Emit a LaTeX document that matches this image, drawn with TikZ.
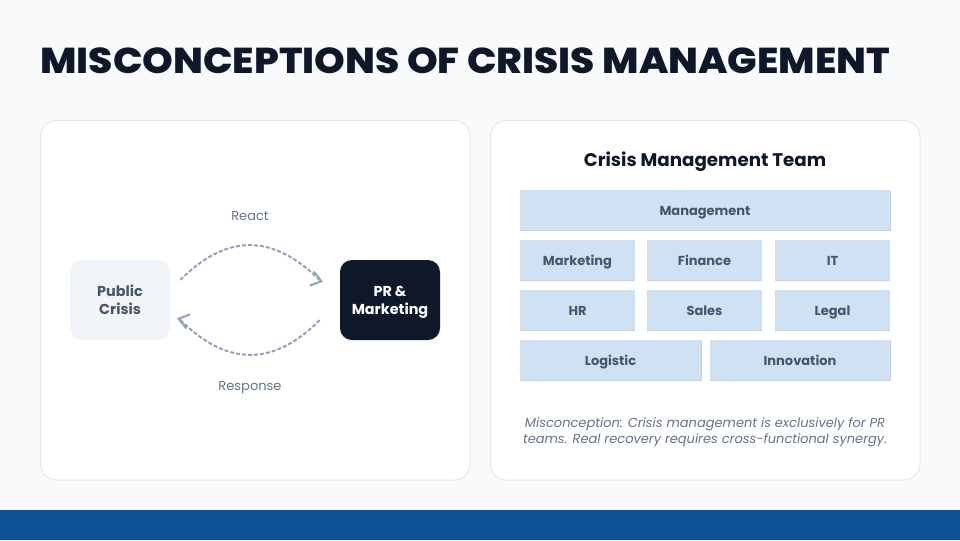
\documentclass[tikz,border=0pt]{standalone}
\usepackage{fontspec}
\usepackage{tikz}
\usetikzlibrary{arrows.meta,shadows}
\setmainfont{Poppins}
\newfontfamily\titlefont[FakeStretch=1.085]{Poppins ExtraBold}

\definecolor{pagebg}{HTML}{F8FAFC}
\definecolor{cardline}{HTML}{E2E8F0}
\definecolor{navy}{HTML}{0F172A}
\definecolor{slatetext}{HTML}{475569}
\definecolor{softtext}{HTML}{64748B}
\definecolor{flowline}{HTML}{94A3B8}
\definecolor{paleblock}{HTML}{F1F5F9}
\definecolor{teamfill}{HTML}{CFE2F3}
\definecolor{teamedge}{HTML}{C4D3E2}
\definecolor{footerblue}{HTML}{0B5394}

\tikzset{
    card/.style={fill=white,draw=cardline,line width=0.75pt,rounded corners=12pt},
    actor/.style={minimum width=75pt,minimum height=60pt,rounded corners=9pt,align=center,
        text height=22.25pt,text depth=1.25pt,
        font=\fontsize{10.8}{13.5}\selectfont\bfseries,inner sep=0pt},
    caption/.style={text=softtext,text height=8pt,text depth=0.5pt,font=\fontsize{9.75}{12}\selectfont},
    team/.style={fill=teamfill,minimum height=30pt,inner sep=0pt,text=slatetext,
        text height=8pt,text depth=0.5pt,font=\fontsize{9.75}{12}\selectfont\bfseries,
        drop shadow={shadow xshift=0pt,shadow yshift=-0.75pt,opacity=1,fill=teamedge}},
    teamwide/.style={team,drop shadow={shadow xshift=0.75pt,shadow yshift=-0.75pt,opacity=1,fill=teamedge}},
    flow/.style={draw=flowline,line width=1.5pt,dash pattern=on 3pt off 1.5pt,
        -{Straight Barb[length=7.5pt,width=11pt,line width=1.5pt]}},
}

\begin{document}
\begin{tikzpicture}[x=0.75pt,y=-0.75pt]
    \useasboundingbox (0,0) rectangle (960,540);
    \fill[pagebg] (0,0) rectangle (960,540);
    \fill[footerblue] (0,510) rectangle (960,540);

    \node[anchor=base west,text=navy,inner sep=0pt,font=\fontsize{27}{32}\selectfont\titlefont] (title) at (40,73.5)
        {MISCONCEPTIONS OF CRISIS MANAGEMENT};

    \draw[card] (40.5,120.5) rectangle (470,480);
    \draw[card] (490.5,120.5) rectangle (920,480);

    % left card
    \node[actor,fill=paleblock,text=slatetext] (public) at (120,300) {Public\\Crisis};
    \node[actor,fill=navy,text=white] (pr) at (390,300) {PR \&\\Marketing};

    \draw[flow] ([shift={(10,-20)}]public.east) .. controls (226.7,233.3) and (273.3,233.3) .. (320.5,281) -- ([shift={(-16.7,-18.3)}]pr.west);
    \draw[flow] ([shift={(-20,20)}]pr.west) .. controls (273.3,366.7) and (226.7,366.7) .. (179.5,319) -- ([shift={(6.7,18.3)}]public.east);

    \node[caption] (react) at (250,215) {React};
    \node[caption] (response) at (250,385) {Response};

    % right card
    \node[text=navy,text height=10.5pt,text depth=0.5pt,font=\fontsize{13.7}{16}\selectfont\bfseries] (teamtitle) at (705,160) {Crisis Management Team};

    \node[teamwide,minimum width=277.5pt] (mgmt) at (705,210) {Management};
    \foreach \name/\label/\x/\y in {mkt/Marketing/577.5/260,fin/Finance/704.5/260,it/IT/832.5/260,
                                    hr/HR/577.5/310,sales/Sales/704.5/310,legal/Legal/832.5/310} {
        \node[team,minimum width=86.25pt] (\name) at (\x,\y) {\label};
    }
    \node[teamwide,minimum width=135.75pt] (logistic) at (610.5,360) {Logistic};
    \node[teamwide,minimum width=135pt] (innov) at (800,360) {Innovation};

    \node[caption,align=center,text height=20pt,text depth=2pt,font=\fontsize{9.75}{12}\selectfont\itshape] (note) at (705,431)
        {Misconception: Crisis management is exclusively for PR\\teams. Real recovery requires cross-functional synergy.};
\end{tikzpicture}
\end{document}
